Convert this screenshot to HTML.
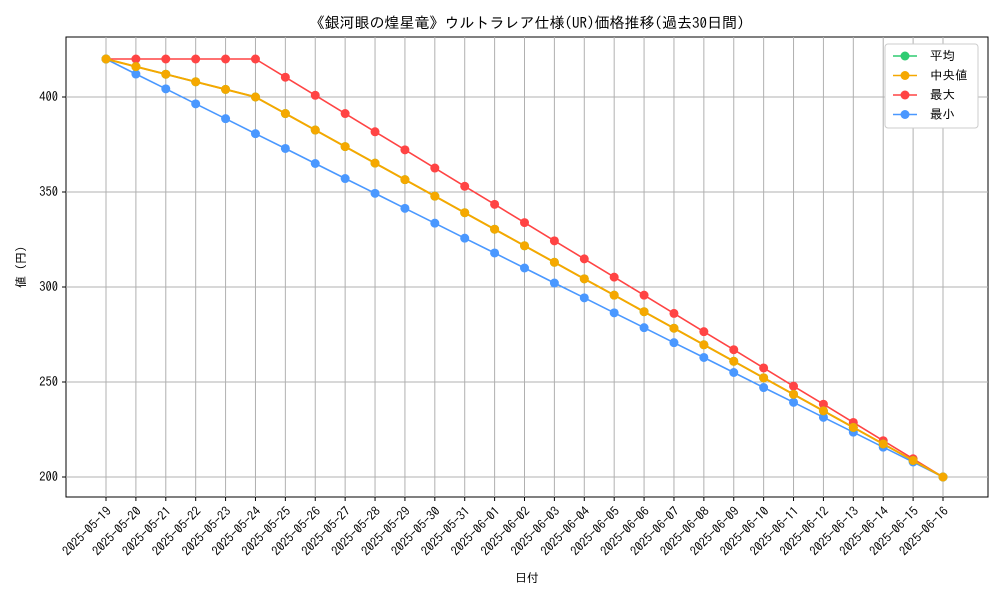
<!DOCTYPE html>
<html><head><meta charset="utf-8"><style>
body{margin:0;background:#fff;font-family:"IPAGothic","Noto Sans CJK JP",sans-serif;}
svg text{font-family:"IPAGothic","Noto Sans CJK JP",sans-serif;fill:#000;}
</style></head><body>
<svg id="chart" width="1000" height="600">
<text x="527" y="28" font-size="15" text-anchor="middle">《銀河眼の煌星竜》ウルトラレア仕様(UR)価格推移(過去30日間)</text>
<rect x="66" y="37" width="922" height="460" fill="none" stroke="#000" stroke-width="1"/>
<g id="grid"></g><g id="series"></g><g id="axes"></g>
<text x="527" y="582" font-size="12" text-anchor="middle">日付</text>
<text transform="translate(25,267) rotate(-90)" font-size="12" text-anchor="middle">値 (円)</text>
<g>
<rect x="885" y="44" width="93" height="84" fill="#fff" stroke="#ccc" rx="3"/>
<g id="legend"></g></g>
</svg>
<script>
const categories=["2025-05-19","2025-05-20","2025-05-21","2025-05-22","2025-05-23","2025-05-24","2025-05-25","2025-05-26","2025-05-27","2025-05-28","2025-05-29","2025-05-30","2025-05-31","2025-06-01","2025-06-02","2025-06-03","2025-06-04","2025-06-05","2025-06-06","2025-06-07","2025-06-08","2025-06-09","2025-06-10","2025-06-11","2025-06-12","2025-06-13","2025-06-14","2025-06-15","2025-06-16"];
const meanVals=[420,416,412,408,404,400,391.3,382.6,373.9,365.2,356.5,347.8,339.1,330.4,321.7,313.0,304.3,295.7,287.0,278.3,269.6,260.9,252.2,243.5,234.8,226.1,217.4,208.7,200];
const medianVals=[420,416,412,408,404,400,391.3,382.6,373.9,365.2,356.5,347.8,339.1,330.4,321.7,313.0,304.3,295.7,287.0,278.3,269.6,260.9,252.2,243.5,234.8,226.1,217.4,208.7,200];
const maxVals=[420,420,420,420,420,420,410.4,400.9,391.3,381.7,372.2,362.6,353.0,343.5,333.9,324.3,314.8,305.2,295.7,286.1,276.5,267.0,257.4,247.8,238.3,228.7,219.1,209.6,200];
const minVals=[420,412.1,404.3,396.4,388.6,380.7,372.9,365.0,357.1,349.3,341.4,333.6,325.7,317.9,310.0,302.1,294.3,286.4,278.6,270.7,262.9,255.0,247.1,239.3,231.4,223.6,215.7,207.9,200];
const yTicks=[200,250,300,350,400];
const seriesNames=["平均","中央値","最大","最小"];
const NS="http://www.w3.org/2000/svg";
const x=i=>106+i*(943-106)/(categories.length-1);
const y=v=>477-(v-200)*1.9;
function mk(tag,attrs,parent){const e=document.createElementNS(NS,tag);for(const k in attrs)e.setAttribute(k,attrs[k]);parent.appendChild(e);return e;}
const grid=document.getElementById('grid'),axes=document.getElementById('axes'),ser=document.getElementById('series'),leg=document.getElementById('legend');
categories.forEach((c,i)=>{
 const l=mk('line',{x1:x(i),x2:x(i),y1:37,y2:497,stroke:'#b0b0b0','stroke-width':1},grid);
 
 
 mk('line',{x1:x(i),x2:x(i),y1:497,y2:501,stroke:'#000'},axes);
 const t=mk('text',{x:0,y:0,'font-size':12.5,'text-anchor':'end',transform:`translate(${x(i)+6},${512}) rotate(-45)`},axes);
 t.textContent=c;
 
 
});
yTicks.forEach(v=>{
 const l=mk('line',{x1:66,x2:988,y1:y(v),y2:y(v),stroke:'#b0b0b0','stroke-width':1},grid);
 
 
 mk('line',{x1:62,x2:66,y1:y(v),y2:y(v),stroke:'#000'},axes);
 const t=mk('text',{x:58,y:y(v)+4,'font-size':12.5,'text-anchor':'end'},axes);
 t.textContent=v;
 
 
});
const series=[[meanVals,'#2ecc71','mean'],[medianVals,'#f5a800','median'],[maxVals,'#ff4444','max'],[minVals,'#4a98ff','min']];
const order=[2,3,0,1];
order.forEach(k=>{
 const [vals,col,nm]=series[k];
 const g=mk('g',{},ser);
 
 
 mk('polyline',{points:vals.map((v,i)=>x(i)+','+y(v)).join(' '),fill:'none',stroke:col,'stroke-width':k==1?2:1.6},g);
 vals.forEach((v,i)=>{
  const c=mk('circle',{cx:x(i),cy:y(v),r:4.5,fill:col},g);
  
  
 });
});
series.forEach(([vals,col,nm],k)=>{
 const yy=56+k*19.5;
 const g=mk('g',{},leg);
 
 
 mk('line',{x1:893,x2:917,y1:yy,y2:yy,stroke:col,'stroke-width':1.6},g);
 mk('circle',{cx:905,cy:yy,r:4.5,fill:col},g);
 const t=mk('text',{x:930,y:yy+4,'font-size':12.5},g);
 t.textContent=(k==1?' ':'')+seriesNames[k];
});
</script>
</body></html>
